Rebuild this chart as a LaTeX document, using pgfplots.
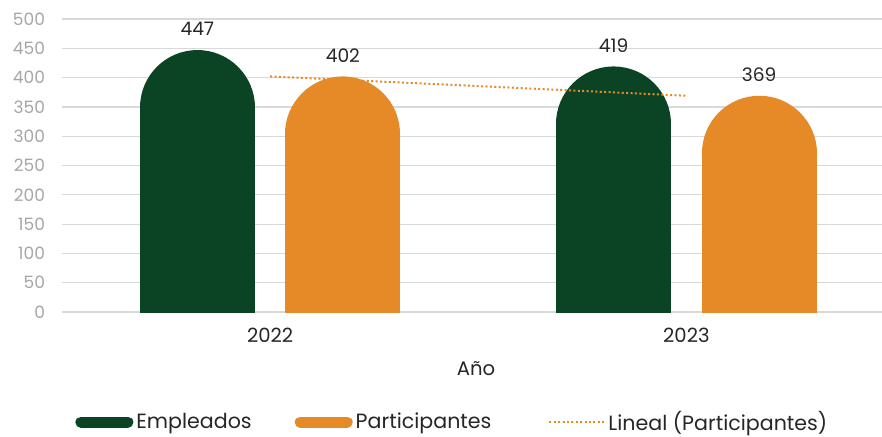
\documentclass[border=0pt]{standalone}
\usepackage{fontspec}
\setmainfont{Poppins}
\usepackage{pgfplots}
\pgfplotsset{compat=1.18}
\usepackage{pgfplotstable}

\definecolor{verde}{HTML}{0B4425}
\definecolor{naranja}{HTML}{E68A27}
\definecolor{gridgris}{HTML}{D9D9D9}
\definecolor{tickgris}{HTML}{A6A6A6}
\definecolor{texto}{HTML}{262626}

% valores por año
\pgfplotstableread{
anio emp par
2022 447 402
2023 419 369
}\datos

\begin{document}
\begin{tikzpicture}
\begin{axis}[
    scale only axis, width=410pt, height=146.5pt,
    xmin=-0.5, xmax=1.47, ymin=0, ymax=500,
    enlargelimits=false,
    xtick={0,1}, xticklabels={2022,2023},
    ytick={0,50,...,500},
    ymajorgrids, grid style={gridgris, line width=0.6pt},
    axis line style={draw=none}, major tick length=0pt,
    /pgf/number format/assume math mode=true,
    yticklabel style={font=\fontsize{8.5}{10}\selectfont, text=tickgris, xshift=-5pt},
    xticklabel style={font=\fontsize{9.8}{11}\selectfont, text=texto, yshift=-4.5pt},
    xlabel={Año},
    xlabel style={font=\fontsize{9.8}{11}\selectfont, text=texto,
        at={(rel axis cs:0.505,0)}, anchor=center, yshift=-28.5pt},
    legend columns=-1,
    legend style={draw=none, fill=none, inner sep=0pt,
        font=\fontsize{10.3}{12}\selectfont, text=texto,
        at={(rel axis cs:0,0)}, anchor=west, xshift=6.5pt, yshift=-55pt,
        nodes={inner sep=1.5pt},
        /tikz/every even column/.append style={column sep=20pt}},
]
\addplot[ycomb, draw=verde, line width=57.5pt, line cap=round, mark=none,
    legend image code/.code={\draw[verde, line width=5.5pt, line cap=round] (2.75pt,0pt) -- (26.25pt,0pt); \path[line width=0pt] (0pt,0pt) (29pt,0pt);}]
    table[x expr=\coordindex-0.1748, y expr=\thisrow{emp}-98.1] {\datos};
\addlegendentry{Empleados}
\addplot[ycomb, draw=naranja, line width=57.5pt, line cap=round, mark=none,
    legend image code/.code={\draw[naranja, line width=5.5pt, line cap=round] (2.75pt,0pt) -- (26.25pt,0pt); \path[line width=0pt] (0pt,0pt) (29pt,0pt);}]
    table[x expr=\coordindex+0.1748, y expr=\thisrow{par}-98.1] {\datos};
\addlegendentry{Participantes}
\addplot[naranja, line width=1pt, dash pattern=on 1pt off 1.2pt, mark=none,
    legend image code/.code={\draw[naranja, line width=1pt, dash pattern=on 1pt off 1.2pt] (7.5pt,0pt) -- (35pt,0pt); \path[line width=0pt] (0pt,0pt) (35pt,0pt);}]
    coordinates {(0,402) (1,369)};
\addlegendentry{Lineal (Participantes)}
% etiquetas de datos
\addplot[draw=none, mark=none, forget plot, nodes near coords,
    every node near coord/.append style={font=\fontsize{9.3}{10}\selectfont, text=texto, anchor=center, yshift=10.5pt}]
    table[x expr=\coordindex-0.1748, y=emp] {\datos};
\addplot[draw=none, mark=none, forget plot, nodes near coords,
    every node near coord/.append style={font=\fontsize{9.3}{10}\selectfont, text=texto, anchor=center, yshift=10.5pt}]
    table[x expr=\coordindex+0.1748, y=par] {\datos};
\end{axis}
\pgfresetboundingbox
\path (current axis.south west) ++(-31pt,-62pt) rectangle ++(441pt,218pt);
\end{tikzpicture}
\end{document}
